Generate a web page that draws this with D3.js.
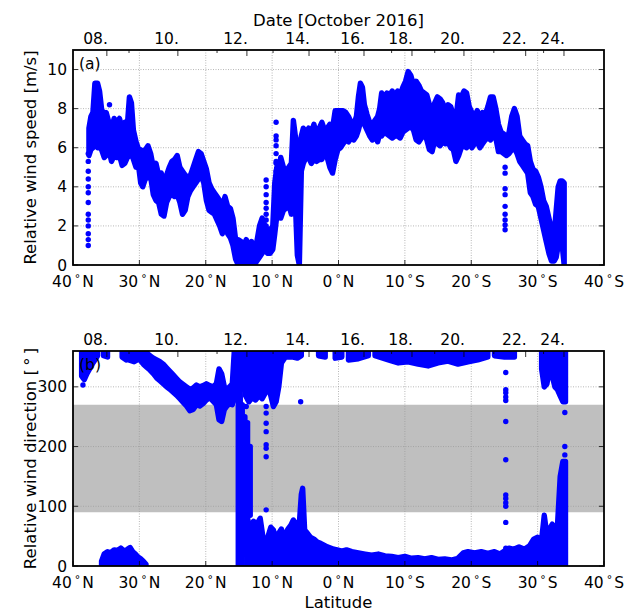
<!DOCTYPE html>
<html><head><meta charset="utf-8">
<script src="https://cdn.jsdelivr.net/npm/d3@7"></script>
<style>body{margin:0;background:#fff}svg{display:block}text{font-family:"DejaVu Sans",sans-serif;fill:#000}</style>
</head><body><svg id="c" width="626" height="611"></svg>
<script>
// ---------- axis / tick data ----------
const latTicks = [40, 30, 20, 10, 0, -10, -20, -30, -40];
const speedTicks = [0, 2, 4, 6, 8, 10];
const dirTicks = [0, 100, 200, 300];
const dateLabels = ["08.", "10.", "12.", "14.", "16.", "18.", "20.", "22.", "24."];
const dateMajorLat = [34.9, 24.2, 13.8, 4.44, -3.84, -11.07, -18.9, -28.2, -33.97];
const dateMinorLat = [31.56, 18.3, 9.86, 0.5, -8.0, -14.5, -23.4, -30.9];

// ---------- panel (a): relative wind speed [m/s] envelope ----------
const speedLat = [37.6,37.3,37.0,36.7,36.3,36.0,35.7,35.3,35.0,34.6,34.2,33.8,33.4,33.0,32.6,32.2,31.8,31.5,31.2,30.9,30.5,30.1,29.8,29.5,29.1,28.7,28.3,27.9,27.5,27.1,26.7,26.3,25.9,25.5,25.1,24.7,24.3,23.9,23.5,23.1,22.7,22.3,21.9,21.5,21.1,20.7,20.3,19.9,19.5,19.1,18.7,18.3,17.9,17.5,17.1,16.7,16.3,15.9,15.5,15.1,14.7,14.3,13.9,13.5,13.1,12.7,12.3,11.9,11.5,11.1,10.7,10.3,9.9,9.6,9.3,9.0,8.7,8.3,7.9,7.5,7.1,6.8,6.5,6.2,5.9,5.6,5.3,4.9,4.5,4.1,3.7,3.3,2.9,2.5,2.1,1.7,1.3,0.9,0.5,0.1,-0.3,-0.7,-1.1,-1.5,-1.9,-2.3,-2.7,-3.0,-3.3,-3.6,-3.9,-4.3,-4.7,-5.1,-5.5,-5.9,-6.2,-6.5,-6.9,-7.3,-7.7,-8.1,-8.5,-8.9,-9.3,-9.7,-10.1,-10.5,-10.9,-11.3,-11.7,-12.1,-12.5,-12.9,-13.3,-13.7,-14.1,-14.5,-14.9,-15.3,-15.7,-16.1,-16.5,-16.9,-17.3,-17.7,-18.1,-18.5,-18.9,-19.3,-19.7,-20.1,-20.5,-20.9,-21.3,-21.7,-22.1,-22.5,-22.9,-23.3,-23.7,-24.1,-24.5,-24.9,-25.3,-25.7,-26.1,-26.5,-26.9,-27.3,-27.7,-28.1,-28.5,-28.9,-29.3,-29.7,-30.1,-30.5,-30.9,-31.3,-31.7,-32.1,-32.5,-32.8,-33.1,-33.4,-33.7,-34.0];
const speedLo = [5.6,5.9,6.0,6.2,6.0,6.1,5.9,5.5,5.6,5.9,5.3,5.6,5.5,5.6,5.1,5.2,5.5,5.6,5.7,5.4,5.0,5.0,4.2,4.0,4.4,4.5,4.5,3.6,3.3,3.2,2.6,2.5,3.2,3.5,3.6,3.5,3.6,3.2,2.6,2.8,3.5,3.8,4.0,4.2,4.4,4.6,4.2,3.3,2.8,2.7,2.6,2.3,2.0,1.6,2.0,1.6,1.4,1.0,0.3,0.0,0.0,0.0,0.0,0.0,0.0,0.0,0.2,0.4,0.6,0.8,0.6,0.6,0.8,1.6,2.5,2.6,2.4,2.8,2.9,3.1,2.6,3.8,3.2,0.5,0.0,4.8,5.2,5.5,5.5,5.2,5.4,5.3,5.4,5.4,5.8,5.5,5.0,4.7,5.4,5.9,6.0,6.2,6.4,6.3,6.5,6.4,6.6,6.9,7.3,7.4,7.2,6.9,6.6,6.4,6.6,6.3,6.7,6.6,6.8,6.7,6.6,6.5,6.6,6.6,6.5,6.8,6.9,7.0,7.1,6.9,6.4,6.3,6.5,6.8,6.4,5.9,5.8,6.4,6.2,6.1,6.3,6.2,6.3,6.0,5.9,5.3,5.6,6.0,6.1,6.0,6.2,6.0,6.2,6.3,6.0,6.2,6.4,6.5,6.4,6.6,6.5,5.8,5.8,5.7,5.6,5.7,5.9,6.0,5.7,5.3,5.1,4.9,4.7,3.7,3.5,3.1,3.0,2.4,1.8,1.2,0.6,0.2,0.2,0.4,1.0,1.2,1.0,0.0];
const speedHi = [7.0,7.6,7.8,9.3,9.3,8.9,8.0,7.6,7.8,7.3,7.0,7.5,7.3,7.5,7.0,7.3,7.2,8.6,8.3,6.9,6.3,5.9,5.9,5.8,5.9,6.1,5.7,5.0,5.2,4.6,4.7,4.2,4.6,5.0,5.3,5.4,5.6,5.0,4.8,4.6,4.5,4.6,5.0,5.4,5.8,5.7,5.3,4.9,4.2,3.9,3.7,3.5,3.3,3.0,3.5,3.0,2.9,2.4,1.3,1.3,1.2,1.0,1.3,1.0,1.2,0.9,1.2,2.0,2.4,2.0,1.8,1.8,2.0,4.2,5.0,4.8,5.5,5.0,4.8,5.0,5.2,7.4,6.6,6.0,5.8,6.6,7.0,6.8,7.0,6.8,7.2,6.6,7.0,7.3,6.9,7.0,7.2,7.0,7.9,7.9,7.9,7.9,7.8,7.6,7.3,7.2,7.6,8.6,9.3,9.1,8.2,7.7,7.3,7.2,7.4,7.6,8.0,8.8,8.6,8.8,8.7,8.9,8.6,8.9,8.7,9.1,9.4,9.9,9.7,9.2,9.4,9.2,8.9,8.8,8.7,8.2,7.8,8.3,8.6,8.5,8.3,7.8,8.2,8.1,7.7,7.5,8.7,8.6,8.9,8.8,8.1,7.8,7.6,7.9,7.6,7.8,7.7,8.1,8.6,8.6,8.0,7.2,6.8,6.7,6.4,6.8,7.6,8.0,7.6,6.6,6.4,6.2,6.1,5.3,4.9,4.8,4.5,4.0,3.3,3.0,2.4,1.8,1.6,2.8,4.0,4.3,4.3,4.2];
// isolated speed readings
const speedDotLat = [37.7,37.7,37.7,37.7,37.7,37.7,37.7,37.7,37.7,37.7,37.7,37.7,37.7,34.5,10.9,10.9,10.9,10.9,10.9,10.9,10.9,10.9,9.4,9.4,9.4,9.4,9.4,9.4,9.4,9.4,-25.1,-25.1,-25.1,-25.1,-25.1,-25.1,-25.1,-25.1,-25.1];
const speedDotVal = [5.7,5.3,4.8,4.4,4.0,3.7,3.2,2.6,2.3,2.0,1.6,1.3,1.0,8.2,4.35,4.0,3.6,3.2,2.9,2.6,2.3,2.0,7.3,6.6,6.4,6.1,5.7,5.3,5.2,4.8,5.0,4.7,3.9,3.6,3.0,2.6,2.3,2.05,1.8];

// ---------- panel (b): relative wind direction [deg] ----------
const dirUpLat = [38.7,38.3,37.9,37.5,37.1,36.7,36.3,null,35.4,34.8,null,32.6,32.0,null,31.6,30.8,30.2,29.9,29.4,28.9,28.4,27.9,27.4,26.9,26.4,25.9,25.4,24.9,24.4,23.9,23.4,22.9,22.4,21.9,21.4,20.9,20.4,19.9,19.4,18.9,18.4,18.0,17.6,17.2,16.8,16.4,16.0,15.7,null,14.0,13.5,13.0,12.5,12.0,11.5,11.0,10.6,10.2,9.8,9.4,9.0,8.6,8.0,7.0,6.2,5.6,null,3.0,2.0,null,0.5,-0.5,null,-1.5,-3.0,-4.5,null,-5.5,-7.5,-9.0,-10.5,-12.0,-13.5,-15.0,-16.5,-18.0,-19.5,-21.0,-22.5,null,-23.5,-25.0,-26.5,null,-30.6,-31.0,-31.4,-31.8,-32.2,-32.6,-33.0,-33.4,-33.8,-34.2];
const dirUpLo = [318,312,322,330,338,345,352,null,352,350,null,350,345,null,345,342,346,345,338,333,328,322,315,310,305,300,296,291,286,280,274,268,260,262,270,268,272,278,282,276,270,245,242,262,268,272,270,280,null,285,275,282,278,285,280,290,300,285,267,275,300,340,350,350,348,352,null,352,350,null,348,350,null,345,347,352,null,352,345,340,342,338,335,340,343,338,342,345,350,null,352,350,350,null,330,300,305,330,318,300,295,285,275,275];
const dirUpHi = [360,360,360,360,360,360,360,null,360,360,null,360,360,null,360,360,360,360,360,357,352,348,345,342,338,332,326,320,314,308,304,300,296,298,303,300,302,305,302,300,305,330,322,300,296,300,305,360,null,360,360,360,360,360,360,360,360,360,360,360,360,360,360,360,360,360,null,360,360,null,360,360,null,360,360,360,null,360,360,360,360,360,360,360,360,360,360,360,360,null,360,360,360,null,360,360,360,360,360,360,360,360,360,360];
const dirLowLat = [35.7,35.3,34.8,34.3,33.8,33.3,32.8,32.3,31.8,31.4,31.0,30.6,30.2,29.8,29.4,29.0,null,13.8,13.3,12.8,12.3,11.8,11.4,null,10.6,10.2,9.8,9.4,9.0,8.6,null,8.0,7.6,7.2,6.8,6.4,6.0,5.6,5.4,5.1,4.7,4.2,3.7,3.2,2.7,2.2,1.7,1.2,0.7,0.2,-0.5,-1.2,-2.0,-3.0,-4.0,-5.0,-6.0,-7.0,-8.0,-9.0,-10.0,-11.0,-12.0,-13.0,-14.0,-15.0,-16.0,-17.0,-18.0,-18.8,-19.5,-20.5,-21.5,-22.5,-23.5,-24.3,-25.0,-25.7,-26.4,-27.2,-28.0,-28.8,-29.4,-30.0,-30.6,-31.0,-31.3,-31.8,-32.2,-32.6,-33.0,-33.4,-33.8,-34.2];
const dirLowHi = [8,20,24,22,27,26,30,25,28,31,24,20,15,12,8,3,null,83,60,75,70,80,50,null,50,65,60,45,55,62,null,55,62,68,77,70,55,120,130,60,55,48,45,40,38,35,32,30,28,27,25,27,24,22,20,18,20,17,16,14,16,13,14,12,14,11,12,10,13,22,24,22,24,21,24,20,25,30,28,32,28,34,45,48,44,85,60,62,70,65,70,150,175,175];
const dirStreakLat = [15.1, 14.8, 14.5, 14.5, 14.1, 13.7, 13.3];
const dirStreakLo = [0, 0, 0, 300, 20, 60, 85];
const dirStreakHi = [360, 360, 270, 360, 250, 240, 200];
const dirDotLat = [38.5,14.2,13.9,13.6,10.9,10.9,10.9,10.9,10.9,10.9,10.9,10.9,5.7,5.7,-25.2,-25.2,-25.2,-25.2,-25.2,-25.2,-25.2,-25.2,-25.2,-25.2,-25.2,-25.2,-25.2,-34.1,-34.1,-34.1,-34.1,-34.1];
const dirDotVal = [303,295,267,278,267,256,239,225,203,197,183,94,353,275,324,295,290,283,277,242,178,119,113,106,100,73,30,257,200,186,172,164];
const greyBand = [90, 270];

// ---------- drawing ----------
const svg = d3.select("#c");
const blue = "#0000ff";
const L = 73, R = 604;
const FT = 15.5, FL = 16.5;
const x = d3.scaleLinear().domain([40, -40]).range([L, R]);
const panels = [
  {id: "a", top: 50, bottom: 265, y: d3.scaleLinear().domain([0, 11]).range([265, 50]), ticks: speedTicks,
   ylabel: "Relative wind speed [m/s]"},
  {id: "b", top: 351, bottom: 566, y: d3.scaleLinear().domain([0, 360]).range([566, 351]), ticks: dirTicks,
   ylabel: "Relative wind direction [\u2009°\u2009]"}
];

function latLabel(sel, v) {
  const n = Math.abs(v), h = v >= 0 ? "N" : "S";
  sel.append("tspan").text(n);
  sel.append("tspan").text("°").attr("font-size", FT * 0.7).attr("dx", 3).attr("dy", -5);
  sel.append("tspan").text(h).attr("dx", 2).attr("dy", 5);
}

panels.forEach((p) => {
  const g = svg.append("g");
  const clipId = "clip" + p.id;
  svg.append("clipPath").attr("id", clipId).append("rect")
    .attr("x", L).attr("y", p.top).attr("width", R - L).attr("height", p.bottom - p.top);

  if (p.id === "b") {
    g.append("rect").attr("x", L).attr("width", R - L)
      .attr("y", p.y(greyBand[1])).attr("height", p.y(greyBand[0]) - p.y(greyBand[1]))
      .attr("fill", "#bfbfbf");
  }
  g.selectAll(".vg").data(latTicks.slice(1, -1)).join("line")
    .attr("x1", d => x(d)).attr("x2", d => x(d)).attr("y1", p.top).attr("y2", p.bottom)
    .attr("stroke", "#999").attr("stroke-width", 0.7).attr("stroke-dasharray", "1,1.5");
  g.selectAll(".hg").data(p.ticks.slice(1)).join("line")
    .attr("x1", L).attr("x2", R).attr("y1", d => p.y(d)).attr("y2", d => p.y(d))
    .attr("stroke", "#999").attr("stroke-width", 0.7).attr("stroke-dasharray", "1,1.5");

  const dg = g.append("g").attr("clip-path", `url(#${clipId})`);
  const drawBand = (lat, lo, hi) => {
    const rows = lat.map((d, k) => ({lat: d, lo: lo === 0 ? 0 : lo[k], hi: hi[k]}));
    const area = d3.area().defined(d => d.lat !== null && d.hi !== null)
      .x(d => x(d.lat)).y0(d => p.y(d.lo)).y1(d => p.y(d.hi));
    dg.append("path").attr("d", area(rows)).attr("fill", blue)
      .attr("stroke", blue).attr("stroke-width", 5.4).attr("stroke-linejoin", "round");
  };
  const drawDots = (lat, val) => {
    dg.selectAll(null).data(lat.map((d, k) => [d, val[k]])).join("circle")
      .attr("cx", d => x(d[0])).attr("cy", d => p.y(d[1])).attr("r", 2.7).attr("fill", blue);
  };
  if (p.id === "a") {
    drawBand(speedLat, speedLo, speedHi);
    drawDots(speedDotLat, speedDotVal);
  } else {
    drawBand(dirUpLat, dirUpLo, dirUpHi);
    drawBand(dirLowLat, 0, dirLowHi);
    dg.selectAll(null).data(dirStreakLat.map((d, k) => [d, dirStreakLo[k], dirStreakHi[k]])).join("line")
      .attr("x1", d => x(d[0])).attr("x2", d => x(d[0]))
      .attr("y1", d => p.y(d[1])).attr("y2", d => p.y(d[2]))
      .attr("stroke", blue).attr("stroke-width", 5.4).attr("stroke-linecap", "round");
    drawDots(dirDotLat, dirDotVal);
  }

  g.selectAll(".bt").data(latTicks).join("line")
    .attr("x1", d => x(d)).attr("x2", d => x(d)).attr("y1", p.bottom).attr("y2", p.bottom - 5)
    .attr("stroke", "#000").attr("stroke-width", 0.8);
  g.selectAll(".lt").data(p.ticks).join("line")
    .attr("x1", L).attr("x2", L + 5).attr("y1", d => p.y(d)).attr("y2", d => p.y(d))
    .attr("stroke", "#000").attr("stroke-width", 0.8);
  g.selectAll(".rt").data(p.ticks).join("line")
    .attr("x1", R).attr("x2", R - 5).attr("y1", d => p.y(d)).attr("y2", d => p.y(d))
    .attr("stroke", "#000").attr("stroke-width", 0.8);
  g.selectAll(".tmaj").data(dateMajorLat).join("line")
    .attr("x1", d => x(d)).attr("x2", d => x(d)).attr("y1", p.top).attr("y2", p.top + 6)
    .attr("stroke", "#000").attr("stroke-width", 0.8);
  g.selectAll(".tmin").data(dateMinorLat).join("line")
    .attr("x1", d => x(d)).attr("x2", d => x(d)).attr("y1", p.top).attr("y2", p.top + 3)
    .attr("stroke", "#000").attr("stroke-width", 0.8);

  g.append("rect").attr("x", L).attr("y", p.top).attr("width", R - L).attr("height", p.bottom - p.top)
    .attr("fill", "none").attr("stroke", "#000").attr("stroke-width", 1.8);

  g.selectAll(".xl").data(latTicks).join("text")
    .attr("x", d => x(d)).attr("y", p.bottom + 22).attr("text-anchor", "middle").attr("font-size", FT)
    .each(function (d) { latLabel(d3.select(this), d); });
  g.selectAll(".yl").data(p.ticks).join("text")
    .attr("x", L - 6).attr("y", d => p.y(d) + 5.5).attr("text-anchor", "end").attr("font-size", FT)
    .text(d => d);
  g.selectAll(".dl").data(dateLabels).join("text")
    .attr("x", (d, k) => x(dateMajorLat[k]) + 1).attr("y", p.top - 6.5).attr("text-anchor", "end")
    .attr("font-size", FT).text(d => d);

  g.append("text").attr("x", 79).attr("y", p.top + 19).attr("font-size", FT).text("(" + p.id + ")");
  g.append("text").attr("transform", `translate(36,${(p.top + p.bottom) / 2}) rotate(-90)`)
    .attr("text-anchor", "middle").attr("font-size", FL).text(p.ylabel);
});

svg.append("text").attr("x", (L + R) / 2).attr("y", 25.5).attr("text-anchor", "middle")
  .attr("font-size", FL).text("Date [October 2016]");
svg.append("text").attr("x", (L + R) / 2).attr("y", 608).attr("text-anchor", "middle")
  .attr("font-size", FL).text("Latitude");
</script></body></html>
